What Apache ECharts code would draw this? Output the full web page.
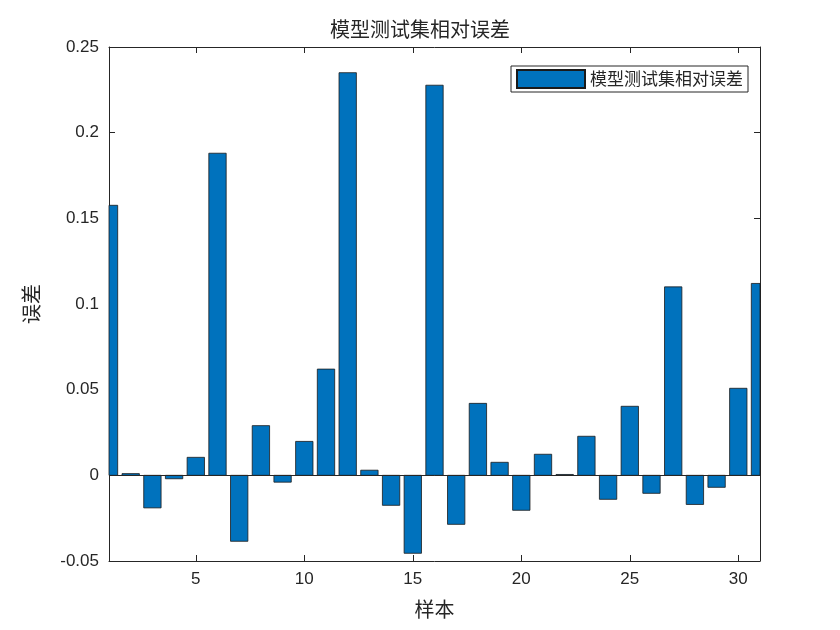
<!DOCTYPE html>
<html><head><meta charset="utf-8">
<script src="https://cdn.jsdelivr.net/npm/echarts@6/dist/echarts.min.js"></script>
<style>html,body{margin:0;padding:0;background:#fff}#c{width:840px;height:630px}</style>
</head><body><div id="c"></div>
<script>
const samples = [1,2,3,4,5,6,7,8,9,10,11,12,13,14,15,16,17,18,19,20,21,22,23,24,25,26,27,28,29,30,31];
const errors = [0.1576,0.001,-0.019,-0.002,0.0105,0.188,-0.0385,0.029,-0.004,0.0198,0.062,0.235,0.003,-0.0175,-0.0455,0.2277,-0.0286,0.042,0.0076,-0.0204,0.0123,0.0005,0.0228,-0.014,0.0403,-0.0105,0.110,-0.017,-0.007,0.0508,0.112];
const xTicks = [5,10,15,20,25,30];
const chart = echarts.init(document.getElementById('c'));
const lab = {fontFamily:'Liberation Sans, Arial', fontSize:17, color:'#262626'};
const tick = {inside:true,length:6,lineStyle:{color:'#262626'}};
chart.setOption({
  animation:false,
  title:{text:'模型测试集相对误差',left:'center',top:14,textStyle:{fontFamily:'Noto Sans CJK SC',fontSize:20,fontWeight:'normal',color:'#262626'}},
  legend:{data:['模型测试集相对误差'],right:92,top:66,icon:'rect',itemWidth:68,itemHeight:18,itemGap:4,
    borderColor:'#262626',borderWidth:1,padding:[3,5],borderRadius:0,backgroundColor:'#fff',
    textStyle:{fontFamily:'Noto Sans CJK SC',fontSize:17,color:'#262626'}},
  grid:{left:109,right:80,top:47,bottom:69},
  xAxis:[{type:'value',min:1,max:31,name:'样本',nameLocation:'middle',nameGap:38,
    nameTextStyle:{fontFamily:'Noto Sans CJK SC',fontSize:20,color:'#262626'},
    axisLine:{onZero:false,lineStyle:{color:'#262626'}},axisTick:Object.assign({customValues:xTicks},tick),
    axisLabel:Object.assign({customValues:xTicks,margin:10},lab),splitLine:{show:false}},
    {type:'value',position:'top',min:1,max:31,axisLine:{onZero:false,lineStyle:{color:'#262626'}},
    axisTick:Object.assign({customValues:xTicks},tick),axisLabel:{show:false},splitLine:{show:false}}],
  yAxis:[{type:'value',min:-0.05,max:0.25,interval:0.05,name:'误差',nameLocation:'middle',nameGap:68,
    nameTextStyle:{fontFamily:'Noto Sans CJK SC',fontSize:20,color:'#262626'},
    axisLine:{show:true,onZero:false,lineStyle:{color:'#262626'}},axisTick:tick,
    axisLabel:Object.assign({margin:10,formatter:v=>String(Math.round(v*100)/100)},lab),splitLine:{show:false}},
    {type:'value',position:'right',min:-0.05,max:0.25,interval:0.05,axisLine:{show:true,onZero:false,lineStyle:{color:'#262626'}},
    axisTick:tick,axisLabel:{show:false},splitLine:{show:false}}],
  series:[{name:'模型测试集相对误差',type:'custom',
    data:samples.map((s,i)=>[s,errors[i]]),
    itemStyle:{color:'#0072BD',borderColor:'#1a1a1a',borderWidth:0.8},
    markLine:{silent:true,symbol:'none',label:{show:false},lineStyle:{color:'#262626',type:'solid',width:1},data:[{yAxis:0}]},
    renderItem:function(params,api){
      const p0=api.coord([api.value(0),0]);const p1=api.coord([api.value(0),api.value(1)]);
      const w=api.size([0.8,0])[0];
      const r={x:p0[0]-w/2,y:Math.min(p0[1],p1[1]),width:w,height:Math.abs(p1[1]-p0[1])};
      const c=params.coordSys;
      const rr=echarts.graphic.clipRectByRect(r,{x:c.x,y:c.y,width:c.width,height:c.height});
      return rr&&{type:'rect',shape:rr,style:{fill:'#0072BD',stroke:'#1a1a1a',lineWidth:0.8}};
    }}]
});
</script></body></html>
